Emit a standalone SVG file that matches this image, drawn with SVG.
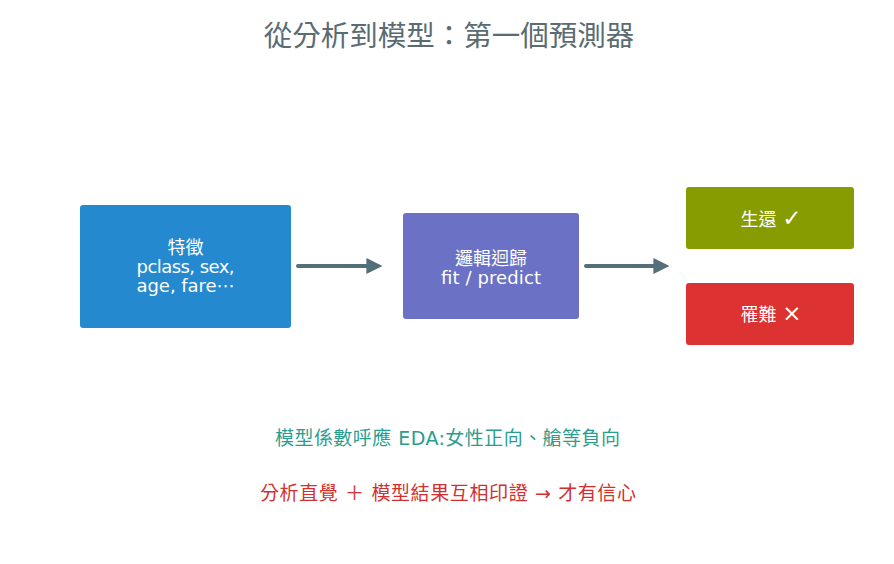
<svg xmlns="http://www.w3.org/2000/svg" width="894" height="564" viewBox="0 0 894 564">
<style>
text{font-family:"DejaVu Sans","Noto Sans CJK TC",sans-serif;text-anchor:middle}
.t{fill:#fff;font-size:18px}
.s{font-size:23px}
.c{stroke:#546e7a;stroke-width:4;fill:none;stroke-linecap:round}
</style>
<defs>
<marker id="ah" viewBox="0 0 10 10" refX="6" refY="5" markerWidth="4" markerHeight="4" orient="auto" markerUnits="strokeWidth">
<path d="M0,0 L10,5 L0,10 Z" fill="#546e7a"/>
</marker>
</defs>
<rect width="894" height="564" fill="#fff"/>
<text x="449" y="46" font-size="28.5" fill="#5a6b72" style="font-family:'Noto Sans CJK TC',sans-serif">從分析到模型：第一個預測器</text>
<g id="features">
<rect x="80" y="205" width="211" height="123" rx="3" fill="#2589d0"/>
<text class="t" x="185.5" y="254">特徵</text>
<text class="t" x="185.5" y="273" font-size="17" textLength="98">pclass, sex,</text>
<text class="t" x="185.5" y="292" font-size="17" textLength="98">age, fare⋯</text>
</g>
<g id="model">
<rect x="403" y="213" width="176" height="106" rx="3" fill="#6b71c4"/>
<text class="t" x="491" y="265">邏輯迴歸</text>
<text class="t" x="491" y="284" textLength="100">fit / predict</text>
</g>
<g id="survive">
<rect x="686" y="187" width="168" height="62" rx="3" fill="#869c00"/>
<text class="t" x="771" y="226">生還 <tspan class="s">✓</tspan></text>
</g>
<g id="die">
<rect x="686" y="283" width="168" height="62" rx="3" fill="#dc3232"/>
<text class="t" x="771" y="321">罹難 <tspan class="s">×</tspan></text>
</g>
<g id="connectors">
<line class="c" x1="298" y1="266" x2="376" y2="266" marker-end="url(#ah)"/>
<line class="c" x1="586" y1="266" x2="663" y2="266" marker-end="url(#ah)"/>
</g>
<text x="447.5" y="445" font-size="19" fill="#2a9d8f" textLength="345">模型係數呼應 EDA:女性正向、艙等負向</text>
<text x="448" y="500" font-size="19" fill="#d32f2f" textLength="376">分析直覺 ＋ 模型結果互相印證 → 才有信心</text>
</svg>
